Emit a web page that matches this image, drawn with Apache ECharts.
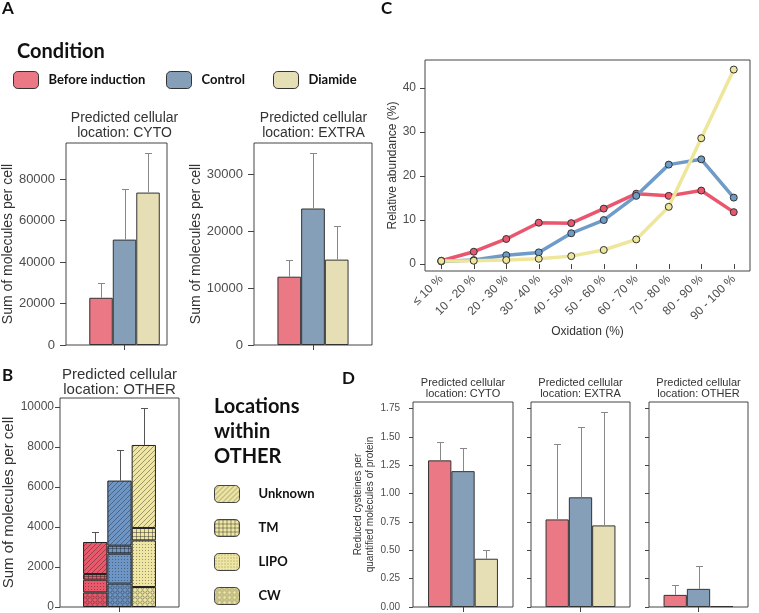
<!DOCTYPE html>
<html><head><meta charset="utf-8">
<script src="https://cdn.jsdelivr.net/npm/echarts@6/dist/echarts.min.js"></script>
<style>html,body{margin:0;padding:0;background:#fff}#c{width:759px;height:613px}</style>
</head><body><div id="c"></div>
<script>
// ---------- data ----------
const conditions = ['Before induction', 'Control', 'Diamide'];
// Panel A
const cytoMean = [22800, 50900, 73600];
const cytoUpper = [29900, 75500, 92900];
const cytoTicks = [0, 20000, 40000, 60000, 80000];
const extraMean = [12000, 23980, 15000];
const extraUpper = [15000, 33800, 20900];
const extraTicks = [0, 10000, 20000, 30000];
// Panel B (stack order bottom -> top)
const otherLocations = ['CW', 'LIPO', 'TM', 'Unknown'];
const otherCW = [730, 1170, 1000];
const otherLIPO = [635, 1495, 2330];
const otherTM = [285, 400, 620];
const otherUnknown = [1600, 3255, 4150];
const otherUpper = [3750, 7830, 9950];
const otherTicks = [0, 2000, 4000, 6000, 8000, 10000];
const legendLocations = ['Unknown', 'TM', 'LIPO', 'CW'];
// Panel C
const oxidationBins = ['≤ 10 %', '10 - 20 %', '20 - 30 %', '30 - 40 %', '40 - 50 %', '50 - 60 %', '60 - 70 %', '70 - 80 %', '80 - 90 %', '90 - 100 %'];
const abundBefore = [0.76, 2.8, 5.7, 9.4, 9.3, 12.6, 16.0, 15.5, 16.7, 11.8];
const abundControl = [0.6, 0.9, 2.0, 2.65, 7.0, 10.0, 15.5, 22.6, 23.8, 15.1];
const abundDiamide = [0.7, 0.76, 0.9, 1.2, 1.8, 3.2, 5.6, 13.0, 28.6, 44.2];
const abundTicks = [0, 10, 20, 30, 40];
// Panel D
const redCytoMean = [1.294, 1.199, 0.426];
const redCytoUpper = [1.46, 1.403, 0.50];
const redExtraMean = [0.773, 0.968, 0.720];
const redExtraUpper = [1.439, 1.587, 1.723];
const redOtherMean = [0.107, 0.160, 0.008];
const redOtherUpper = [0.195, 0.361, 0.008];
const redTicks = [0, 0.25, 0.5, 0.75, 1.0, 1.25, 1.5, 1.75];

// ---------- styles ----------
const colA = ['#EB7885', '#869FB9', '#E6DEB5'];
const colC = ['#E9566D', '#6E9BC8', '#EEE69A'];
const colB = ['#E9596C', '#6D95C5', '#EEE6A2'];
const AX = 'Liberation Sans';
const BOLD = 'Lato';
const kinds = {CW: 'circles', LIPO: 'dots', TM: 'grid', Unknown: 'diag'};

function pattern(base, kind) {
  const s = kind === 'dots' ? 3 : (kind === 'grid' ? 4 : 5);
  const c = document.createElement('canvas');
  c.width = s; c.height = s;
  const g = c.getContext('2d');
  g.fillStyle = base; g.fillRect(0, 0, s, s);
  g.strokeStyle = 'rgba(30,30,30,0.5)';
  g.fillStyle = 'rgba(30,30,30,0.42)';
  g.lineWidth = 0.8;
  if (kind === 'diag') {
    g.beginPath();
    g.moveTo(0, s); g.lineTo(s, 0);
    g.moveTo(-1, 1); g.lineTo(1, -1);
    g.moveTo(s - 1, s + 1); g.lineTo(s + 1, s - 1);
    g.stroke();
  } else if (kind === 'grid') {
    g.fillRect(0, 0, s, 1); g.fillRect(0, 0, 1, s);
  } else if (kind === 'dots') {
    g.fillRect(1, 1, 1, 1);
  } else if (kind === 'circles') {
    g.beginPath(); g.arc(s / 2, s / 2, 1.7, 0, Math.PI * 2); g.stroke();
  }
  return {image: c, repeat: 'repeat'};
}

function errSeries(id, axisIdx, mean, upper, bw, color, capW) {
  return {
    type: 'custom', name: id, xAxisIndex: axisIdx, yAxisIndex: axisIdx, z: 5, silent: true,
    data: mean.map((m, i) => [0, m, upper[i], i]),
    encode: {x: 0, y: [1, 2]},
    renderItem: (p, api) => {
      if (api.value(2) <= api.value(1)) return null;
      const b = api.coord([0, api.value(1)]);
      const t = api.coord([0, api.value(2)]);
      const x = Math.round(b[0] + (api.value(3) - 1) * bw) + 0.5;
      const ty = Math.round(t[1]) + 0.5;
      return {type: 'group', children: [
        {type: 'line', shape: {x1: x, y1: b[1], x2: x, y2: ty}, style: {stroke: color, lineWidth: 1}},
        {type: 'line', shape: {x1: x - capW / 2, y1: ty, x2: x + capW / 2, y2: ty}, style: {stroke: color, lineWidth: 1}}
      ]};
    }
  };
}

// grids: 0 A-CYTO (data, bars centred as in source), 1 A-EXTRA, 2 B, 3 C, 4-6 D, 7 A-CYTO panel frame
const gridBox = {show: true, borderColor: '#444', borderWidth: 1, backgroundColor: 'transparent', containLabel: false};
const grids = [
  {left: 66, top: 143, width: 117, height: 202, show: false},
  {left: 254, top: 143, width: 118, height: 202},
  {left: 60, top: 398, width: 119, height: 209},
  {left: 425, top: 60, width: 325, height: 211},
  {left: 413, top: 402, width: 100, height: 205},
  {left: 531, top: 402, width: 99, height: 205},
  {left: 649, top: 402, width: 99, height: 205},
  {left: 66, top: 143, width: 101, height: 202}
].map(g => Object.assign({}, gridBox, g));

function catAxis(gi) {
  return {type: 'category', gridIndex: gi, data: ['x'],
    axisLine: {show: false},
    axisTick: {show: true, alignWithLabel: true, interval: 0, length: 5, lineStyle: {color: '#444'}},
    axisLabel: {show: false}, splitLine: {show: false}};
}
function valAxis(gi, max, ticks, o) {
  o = o || {};
  return {type: 'value', gridIndex: gi, min: o.min !== undefined ? o.min : 0, max: max,
    axisLine: {show: false}, splitLine: {show: false},
    axisTick: {show: true, customValues: ticks, length: o.tick || 5, lineStyle: {color: '#444'}},
    axisLabel: {show: o.noLabel ? false : true, customValues: ticks, color: '#4d4d4d',
      fontFamily: AX, fontSize: o.fs || 13, margin: o.margin || 10, formatter: o.fmt || (v => String(v))},
    name: o.name || '', nameLocation: 'middle', nameGap: o.gap || 50,
    nameTextStyle: {fontFamily: AX, fontSize: o.nfs || 14, color: '#333', lineHeight: o.nlh}};
}

const maxOf = a => Math.max.apply(null, a);
const aCytoMax = maxOf(cytoUpper) * 1.05;
const aExtraMax = maxOf(extraUpper) * 1.05;
const bMax = maxOf(otherUpper) * 1.05;
const allC = abundBefore.concat(abundControl, abundDiamide);
const cSpan = maxOf(allC) - Math.min.apply(null, allC);
const cMin = Math.min.apply(null, allC) - 0.05 * cSpan;
const cMax = maxOf(allC) + 0.05 * cSpan;
const dMax = maxOf(redCytoUpper.concat(redExtraUpper, redOtherUpper)) * 1.05;

const xAxes = [catAxis(0), catAxis(1), catAxis(2),
  {type: 'category', gridIndex: 3, data: oxidationBins, boundaryGap: true,
    axisLine: {show: false},
    axisTick: {show: true, alignWithLabel: true, interval: 0, length: 5, lineStyle: {color: '#444'}},
    axisLabel: {interval: 0, rotate: 45, fontFamily: AX, fontSize: 12, color: '#4d4d4d', margin: 6},
    name: 'Oxidation (%)', nameLocation: 'middle', nameGap: 37,
    nameTextStyle: {fontFamily: AX, fontSize: 12, color: '#333'}},
  catAxis(4), catAxis(5), catAxis(6)];

const yAxes = [
  valAxis(0, aCytoMax, cytoTicks, {name: 'Sum of molecules per cell', gap: 50, tick: 6, margin: 11}),
  valAxis(1, aExtraMax, extraTicks, {name: 'Sum of molecules per cell', gap: 50, tick: 6, margin: 11}),
  valAxis(2, bMax, otherTicks, {name: 'Sum of molecules per cell', gap: 43, nfs: 15, fs: 12, tick: 5, margin: 6}),
  valAxis(3, cMax, abundTicks, {min: cMin, name: 'Relative abundance (%)', gap: 26, nfs: 12, fs: 12, tick: 5, margin: 9}),
  valAxis(4, dMax, redTicks, {name: 'Reduced cysteines per\nquantified molecules of protein', gap: 33, nfs: 10, nlh: 12,
    fs: 10, tick: 4, margin: 13, fmt: v => v.toFixed(2)}),
  valAxis(5, dMax, redTicks, {noLabel: true, tick: 4}),
  valAxis(6, dMax, redTicks, {noLabel: true, tick: 4})
];

const series = [];
function barGroup(gi, mean, bw, colors) {
  mean.forEach((m, i) => {
    series.push({type: 'bar', name: conditions[i], xAxisIndex: gi, yAxisIndex: gi,
      data: [m], barWidth: bw, barGap: '0%', silent: true,
      itemStyle: {color: colors[i], borderColor: '#333', borderWidth: 1}});
  });
}
// Panel A
barGroup(0, cytoMean, 23.5, colA);
barGroup(1, extraMean, 23.7, colA);
series.push(errSeries('errA1', 0, cytoMean, cytoUpper, 23.5, '#888', 7));
series.push(errSeries('errA2', 1, extraMean, extraUpper, 23.7, '#888', 7));
// Panel B
const stacks = ['before', 'control', 'diamide'];
const otherSeg = {CW: otherCW, LIPO: otherLIPO, TM: otherTM, Unknown: otherUnknown};
stacks.forEach((st, i) => {
  otherLocations.forEach(loc => {
    series.push({type: 'bar', name: loc, stack: st, xAxisIndex: 2, yAxisIndex: 2,
      data: [otherSeg[loc][i]], barWidth: 24.3, barGap: '0%', silent: true,
      itemStyle: {color: pattern(colB[i], kinds[loc]), borderColor: '#222', borderWidth: 1}});
  });
});
const otherTotal = conditions.map((c, i) => otherCW[i] + otherLIPO[i] + otherTM[i] + otherUnknown[i]);
series.push(errSeries('errB', 2, otherTotal, otherUpper, 24.3, '#555', 7));
// Panel C
[abundBefore, abundControl, abundDiamide].forEach((d, i) => {
  series.push({type: 'line', name: conditions[i], xAxisIndex: 3, yAxisIndex: 3, data: d,
    symbol: 'circle', symbolSize: 7, silent: true, z: 2 + i,
    lineStyle: {width: 3.5, color: colC[i]},
    itemStyle: {color: colC[i], borderColor: '#333', borderWidth: 1}});
});
// Panel D
barGroup(4, redCytoMean, 23.3, colA);
barGroup(5, redExtraMean, 23.3, colA);
barGroup(6, redOtherMean, 23.3, colA);
series.push(errSeries('errD1', 4, redCytoMean, redCytoUpper, 23.3, '#888', 7));
series.push(errSeries('errD2', 5, redExtraMean, redExtraUpper, 23.3, '#888', 7));
series.push(errSeries('errD3', 6, redOtherMean, redOtherUpper, 23.3, '#888', 7));

// ---------- legends ----------
const legTxt = {fontFamily: BOLD, fontWeight: 'bold', fontSize: 13, color: '#111'};
const legA = [[13, 71], [166, 71], [273, 71]].map((p, i) => ({
  data: [conditions[i]], left: p[0], top: p[1], padding: 0, itemWidth: 25, itemHeight: 17,
  icon: 'roundRect', selectedMode: false,
  itemStyle: {color: colA[i], borderColor: '#333', borderWidth: 1},
  textStyle: Object.assign({padding: [0, 0, 0, 5]}, legTxt)}));
const legB = {
  data: legendLocations.map(n => ({name: n, itemStyle: {color: pattern(colB[2], kinds[n]), borderColor: '#444', borderWidth: 1}})),
  orient: 'vertical', left: 214, top: 485, padding: 0, itemWidth: 25, itemHeight: 17, itemGap: 16,
  icon: 'roundRect', selectedMode: false,
  textStyle: Object.assign({padding: [0, 0, 0, 14]}, legTxt)};

// ---------- texts ----------
function txt(s, x, y, font, align, color) {
  return {type: 'text', x: x, y: y, silent: true,
    style: {text: s, font: font, fill: color || '#333', textAlign: align || 'center', textVerticalAlign: 'middle'}};
}
const f14 = '14px "Liberation Sans"', f15 = '15px "Liberation Sans"', f11 = '11px "Liberation Sans"';
const fB = 'bold 20px Lato', fL = 'bold 17px Lato';
const graphics = [
  txt('A', 2, 9, fL, 'left', '#111'),
  txt('B', 2, 376, fL, 'left', '#111'),
  txt('C', 381, 9, fL, 'left', '#111'),
  txt('D', 342, 379, fL, 'left', '#111'),
  txt('Condition', 17, 52, fB, 'left', '#111'),
  txt('Locations', 214, 407, fB, 'left', '#111'),
  txt('within', 214, 432, fB, 'left', '#111'),
  txt('OTHER', 214, 457, fB, 'left', '#111'),
  txt('Predicted cellular', 124.5, 118, f14), txt('location: CYTO', 124.5, 133, f14),
  txt('Predicted cellular', 313.5, 118, f14), txt('location: EXTRA', 313.5, 133, f14),
  txt('Predicted cellular', 119.5, 375, f15), txt('location: OTHER', 119.5, 390, f15),
  txt('Predicted cellular', 463, 382.5, f11), txt('location: CYTO', 463, 393.5, f11),
  txt('Predicted cellular', 580.5, 382.5, f11), txt('location: EXTRA', 580.5, 393.5, f11),
  txt('Predicted cellular', 698.5, 382.5, f11), txt('location: OTHER', 698.5, 393.5, f11)
];

const chart = echarts.init(document.getElementById('c'), null, {renderer: 'canvas'});
chart.setOption({
  animation: false,
  backgroundColor: '#fff',
  textStyle: {fontFamily: AX},
  grid: grids, xAxis: xAxes, yAxis: yAxes, series: series,
  legend: legA.concat([legB]),
  graphic: graphics
});
</script></body></html>
